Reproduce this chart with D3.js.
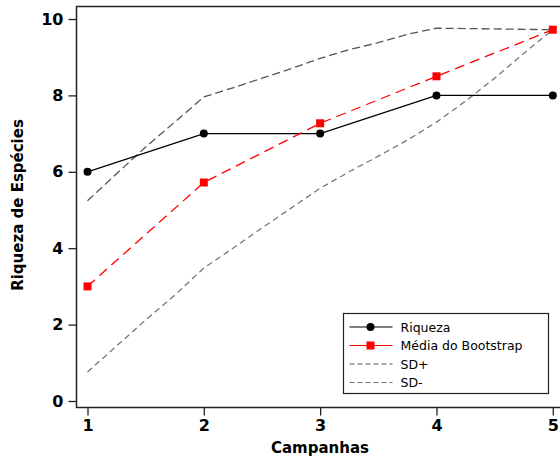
<!DOCTYPE html>
<html>
<head>
<meta charset="utf-8">
<script src="https://cdn.jsdelivr.net/npm/d3@7"></script>
<style>
	body { margin: 0; background: #fff; }
	svg { display: block; font-family: "DejaVu Sans", Verdana, sans-serif; }
</style>
</head>
<body>
<svg width="560" height="461"></svg>
<script>
var campanhas = [1, 2, 3, 4, 5];
var riqueza = [6, 7, 7, 8, 8];
var mediaBootstrap = [3.0, 5.72, 7.27, 8.5, 9.72];
// SD curves are drawn with intermediate points
var sdX = [1, 1.25, 1.5, 1.75, 2, 2.25, 2.5, 2.75, 3, 3.25, 3.5, 3.75, 4, 4.25, 4.5, 4.75, 5];
var sdMais = [5.24, 5.95, 6.65, 7.3, 7.96, 8.2, 8.45, 8.7, 8.97, 9.2, 9.38, 9.6, 9.76, 9.75, 9.74, 9.73, 9.72];
var sdMenos = [0.76, 1.44, 2.12, 2.77, 3.48, 4.0, 4.53, 5.05, 5.57, 6.0, 6.41, 6.83, 7.3, 7.85, 8.45, 9.1, 9.72];
var yTicks = [0, 2, 4, 6, 8, 10];
var legendLabels = ["Riqueza", "Média do Bootstrap", "SD+", "SD-"];

function drawChart() {
	var svg = d3.select("svg");

	var x = d3.scaleLinear().domain([1, 5]).range([87.5, 552.8]);
	var y = d3.scaleLinear().domain([0, 10]).range([401, 19]);

	// frame
	svg.append("path")
		.attr("d", "M560,6.5H76.5V407.5H560")
		.attr("fill", "none")
		.attr("stroke", "#222")
		.attr("stroke-width", 1.5);

	// axes
	var xAxis = svg.append("g")
		.attr("transform", "translate(0,407.5)")
		.call(d3.axisBottom(x).tickValues(campanhas).tickFormat(d3.format("d")).tickSize(8).tickPadding(4));
	var yAxis = svg.append("g")
		.attr("transform", "translate(76.5,0)")
		.call(d3.axisLeft(y).tickValues(yTicks).tickSize(8).tickPadding(5));
	[xAxis, yAxis].forEach(function (a) {
		a.select(".domain").remove();
		a.selectAll("line").attr("stroke", "#222").attr("stroke-width", 1.3);
		a.selectAll("text")
			.attr("font-family", "DejaVu Sans, Verdana, sans-serif")
			.attr("font-size", 16)
			.attr("font-weight", "bold")
			.attr("fill", "#000");
	});

	// axis titles
	svg.append("text")
		.attr("x", 320).attr("y", 453)
		.attr("text-anchor", "middle")
		.attr("font-size", 15).attr("font-weight", "bold")
		.text("Campanhas");
	svg.append("text")
		.attr("transform", "translate(23,205) rotate(-90)")
		.attr("text-anchor", "middle")
		.attr("font-size", 15).attr("font-weight", "bold")
		.text("Riqueza de Espécies");

	var line = d3.line()
		.x(function (d) { return x(d[0]); })
		.y(function (d) { return y(d[1]); });

	// SD+
	svg.append("path")
		.datum(d3.zip(sdX, sdMais))
		.attr("fill", "none")
		.attr("stroke", "#555")
		.attr("stroke-width", 1.3)
		.attr("stroke-dasharray", "8,4")
		.attr("d", line);

	// SD-
	svg.append("path")
		.datum(d3.zip(sdX, sdMenos))
		.attr("fill", "none")
		.attr("stroke", "#777")
		.attr("stroke-width", 1.3)
		.attr("stroke-dasharray", "6,4")
		.attr("d", line);

	// Riqueza
	svg.append("path")
		.datum(d3.zip(campanhas, riqueza))
		.attr("fill", "none")
		.attr("stroke", "#000")
		.attr("stroke-width", 1.3)
		.attr("d", line);
	svg.selectAll(".pt")
		.data(d3.zip(campanhas, riqueza))
		.enter().append("circle")
		.attr("cx", function (d) { return x(d[0]); })
		.attr("cy", function (d) { return y(d[1]); })
		.attr("r", 4)
		.attr("fill", "#000");

	// Media do Bootstrap
	svg.append("path")
		.datum(d3.zip(campanhas, mediaBootstrap))
		.attr("fill", "none")
		.attr("stroke", "#f00")
		.attr("stroke-width", 1.3)
		.attr("stroke-dasharray", "10,6")
		.attr("d", line);
	svg.selectAll(".sq")
		.data(d3.zip(campanhas, mediaBootstrap))
		.enter().append("rect")
		.attr("x", function (d) { return x(d[0]) - 4; })
		.attr("y", function (d) { return y(d[1]) - 4; })
		.attr("width", 8).attr("height", 8)
		.attr("fill", "#f00");

	// legend
	var lg = svg.append("g").attr("transform", "translate(343.5,313.5)");
	lg.append("rect")
		.attr("width", 205).attr("height", 80)
		.attr("fill", "#fff").attr("stroke", "#222").attr("stroke-width", 1.2);
	var styles = [
		{ stroke: "#000", dash: null, mark: "circle" },
		{ stroke: "#f00", dash: null, mark: "square" },
		{ stroke: "#555", dash: "5,3", mark: null },
		{ stroke: "#777", dash: "5,3", mark: null }
	];
	legendLabels.forEach(function (lab, i) {
		var cy = 13.5 + i * 18.5;
		var s = styles[i];
		lg.append("line")
			.attr("x1", 6).attr("x2", 49).attr("y1", cy).attr("y2", cy)
			.attr("stroke", s.stroke).attr("stroke-width", 1.2)
			.attr("stroke-dasharray", s.dash);
		if (s.mark === "circle") {
			lg.append("circle").attr("cx", 27).attr("cy", cy).attr("r", 4).attr("fill", "#000");
		} else if (s.mark === "square") {
			lg.append("rect").attr("x", 23).attr("y", cy - 4).attr("width", 8).attr("height", 8).attr("fill", "#f00");
		}
		lg.append("text")
			.attr("x", 57).attr("y", cy + 4.5)
			.attr("font-size", 12.5)
			.text(lab);
	});
}

drawChart();
</script>
</body>
</html>
